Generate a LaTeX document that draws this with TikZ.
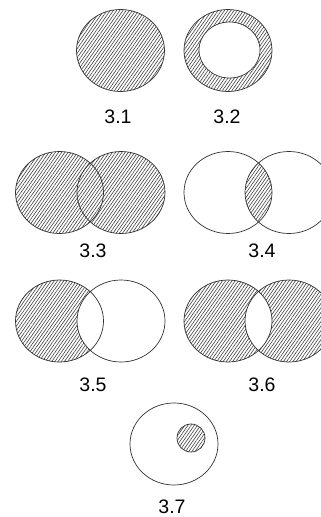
\documentclass[tikz,border=0pt]{standalone}
\usepackage{fontspec}
\setmainfont{Liberation Sans}
\usetikzlibrary{patterns.meta}
\tikzset{
  hatch/.style={pattern={Lines[angle=55,distance=2.6pt,line width=0.6pt]},pattern color=black!75},
  rim/.style={draw=black!80,line width=0.7pt},
  big/.style={x radius=44pt,y radius=41pt},
  lbl/.style={font=\fontsize{19.5}{21}\selectfont,inner sep=0pt}
}
\begin{document}
\begin{tikzpicture}[x=1pt,y=-1pt]
  \clip (0,0) rectangle (321,517);
  \fill[white] (0,0) rectangle (321,517);
  % 3.1
  \fill[hatch] (120.5,50.5) ellipse [big];
  \draw[rim] (120.5,50.5) ellipse [big];
  % 3.2
  \fill[hatch,even odd rule] (228,50.5) ellipse [big] (229.5,50) ellipse [x radius=30.5pt,y radius=28pt];
  \draw[rim] (228,50.5) ellipse [big] (229.5,50) ellipse [x radius=30.5pt,y radius=28pt];
  % 3.3
  \fill[hatch] (59.5,192.5) ellipse [big] (121,192.5) ellipse [big];
  \draw[rim] (59.5,192.5) ellipse [big] (121,192.5) ellipse [big];
  % 3.4
  \begin{scope}
    \clip (228,192.5) ellipse [big];
    \fill[hatch] (289,192.5) ellipse [big];
  \end{scope}
  \draw[rim] (228,192.5) ellipse [big] (289,192.5) ellipse [big];
  % 3.5
  \fill[hatch] (59.5,321) ellipse [big];
  \begin{scope}
    \clip (59.5,321) ellipse [big];
    \fill[white] (121,321) ellipse [big];
  \end{scope}
  \draw[rim] (59.5,321) ellipse [big] (121,321) ellipse [big];
  % 3.6
  \fill[hatch,even odd rule] (228,321) ellipse [big] (289,321) ellipse [big];
  \draw[rim] (228,321) ellipse [big] (289,321) ellipse [big];
  % 3.7
  \draw[rim] (174,444) ellipse [big];
  \fill[hatch] (191,438) circle [radius=14pt];
  \draw[rim] (191,438) circle [radius=14pt];
  % labels
  \node[lbl] (lbl31) at (118,117) {3.1};
  \node[lbl] (lbl32) at (227,117) {3.2};
  \node[lbl] (lbl33) at (93,250.5) {3.3};
  \node[lbl] (lbl34) at (262,250.5) {3.4};
  \node[lbl] (lbl35) at (93,385) {3.5};
  \node[lbl] (lbl36) at (262,385) {3.6};
  \node[lbl] (lbl37) at (172,506.5) {3.7};
\end{tikzpicture}
\end{document}
